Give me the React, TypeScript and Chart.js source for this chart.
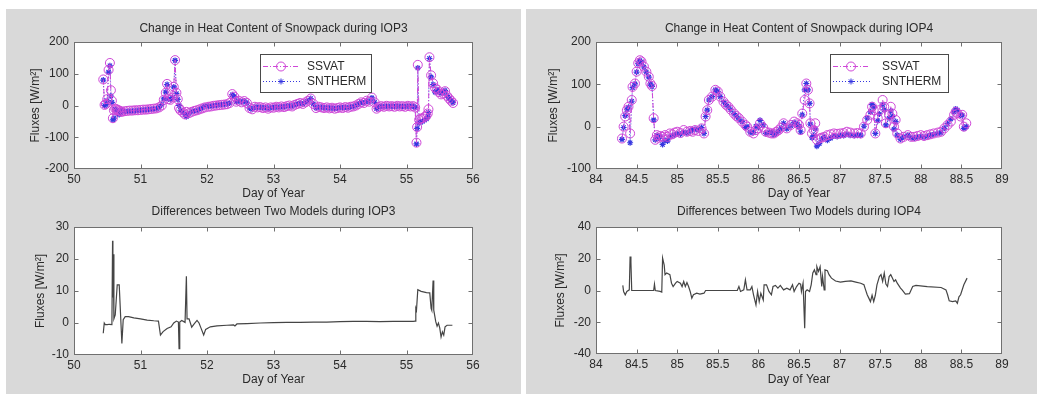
import React, { useEffect, useRef } from 'react';
import { Chart, registerables } from 'chart.js';

Chart.register(...registerables);

const FONT_FAMILY = '"Liberation Sans", Arial, Helvetica, sans-serif';
const TEXT_COLOR = '#2a2a2a';
const PANEL_BG = '#d9d9d9';
const BOX_COLOR = '#707070';
const SSVAT_COLOR = '#cf48d8';
const SNTHERM_COLOR = '#3636e0';
const DIFF_COLOR = '#454545';

const seriesLabels = ['SSVAT', 'SNTHERM'];
const xAxisTitle = 'Day of Year';
const yAxisTitle = 'Fluxes [W/m²]';
const titles = [
  'Change in Heat Content of Snowpack during IOP3',
  'Differences between Two Models during IOP3',
  'Change in Heat Content of Snowpack during IOP4',
  'Differences between Two Models during IOP4',
];

// ---------- IOP3: change in heat content ----------
const iop3Days = [
  50.44, 50.46, 50.48, 50.50, 50.52, 50.54, 50.555, 50.57, 50.585, 50.60,
  50.62, 50.64, 50.66, 50.68, 50.70, 50.72, 50.76, 50.80, 50.84, 50.88,
  50.92, 50.96, 51.00, 51.04, 51.08, 51.12, 51.16, 51.20, 51.24, 51.28,
  51.32, 51.35, 51.38, 51.40, 51.42, 51.45, 51.48, 51.50, 51.52, 51.54,
  51.56, 51.58, 51.60, 51.64, 51.67, 51.69, 51.73, 51.77, 51.81, 51.85,
  51.89, 51.93, 51.97, 52.02, 52.06, 52.10, 52.14, 52.18, 52.22, 52.26,
  52.30, 52.34, 52.38, 52.41, 52.44, 52.48, 52.52, 52.56, 52.60, 52.64,
  52.68, 52.72, 52.76, 52.80, 52.84, 52.88, 52.92, 52.96, 53.00, 53.04,
  53.08, 53.12, 53.16, 53.20, 53.24, 53.28, 53.32, 53.36, 53.40, 53.44,
  53.48, 53.52, 53.56, 53.60, 53.64, 53.68, 53.72, 53.76, 53.80, 53.84,
  53.88, 53.92, 53.96, 54.00, 54.04, 54.08, 54.12, 54.16, 54.20, 54.24,
  54.28, 54.32, 54.36, 54.40, 54.44, 54.48, 54.52, 54.55, 54.58, 54.62,
  54.66, 54.70, 54.74, 54.78, 54.82, 54.86, 54.90, 54.94, 54.98, 55.02,
  55.06, 55.10, 55.13, 55.15, 55.16, 55.17, 55.19, 55.21, 55.24, 55.27,
  55.30, 55.32, 55.33, 55.345, 55.37, 55.40, 55.43, 55.46, 55.49, 55.52,
  55.55, 55.58, 55.61, 55.64, 55.67, 55.70,
];
const iop3Ssvat = [
  82, 2, 5, 20, 112, 134, 48, 15, -40, -15,
  -10, -12, -14, -16, -18, -20, -18, -17, -16, -16,
  -15, -15, -14, -13, -13, -12, -11, -10, -9, -6,
  0, 18, 40, 68, 20, 18, 25, 59, 143, 40,
  20, -8, -15, -22, -28, -20, -24, -20, -17, -15,
  -12, -9, -6, -4, -3, -1, 0, 1, 2, 3,
  4, 8, 36, 28, 12, 15, 10, 14, 8, -8,
  -12, -4, -6, -5, -8, -6, -10, -6, -7, -4,
  -6, -3, -5, -2, 0, -3, 2, 5, 8, 5,
  10, 15, 22, 5, -8, -4, -6, -8, -6, -9,
  -7, -10, -8, -6, -8, -5, -7, -4, -3, 0,
  5, 10, 8, 15, 12, 25, 10, -10, -5, -2,
  -4, -1, -3, -2, -4, -1, -3, -2, -4, -1,
  -3, -2, -6, -117, -68, 128, -45, -42, -40, -36,
  -32, -25, -12, 152, 95, 70, 55, 50, 42, 35,
  38, 45, 30, 22, 15, 8,
];
const iop3Sntherm = [
  80, 0, 3, 15, 105, 125, 30, 10, -45, -40,
  -12, -15, -26, -28, -22, -14, -19, -19, -18, -18,
  -17, -16, -15, -14, -14, -13, -12, -11, -10, -6,
  3, 21, 42, 66, 21, 19, 25, 58, 142, 38,
  19, 0, -15, -22, -28, -35, -25, -19, -17, -16,
  -12, -7, -2, -2, -2, 0, 1, 2, 3, 4,
  5, 8, 34, 28, 12, 15, 10, 14, 8, -8,
  -12, -4, -6, -5, -8, -6, -10, -6, -7, -4,
  -6, -3, -5, -2, 0, -3, 2, 5, 8, 5,
  10, 15, 22, 5, -8, -4, -6, -8, -6, -9,
  -7, -10, -8, -6, -8, -5, -7, -4, -3, 0,
  5, 10, 8, 15, 12, 24, 10, -10, -5, -2,
  -4, -1, -3, -2, -4, -1, -3, -2, -4, -1,
  -3, -2, -6, -121, -72, 118, -55, -52, -50, -46,
  -42, -35, -22, 148, 90, 66, 42, 50, 43, 39,
  41, 47, 31, 23, 16, 9,
];

// ---------- IOP3: differences ----------
const iop3DiffDays = [
  50.44, 50.455, 50.47, 50.50, 50.53, 50.57, 50.58, 50.585, 50.59, 50.60,
  50.62, 50.65, 50.68, 50.72, 50.74, 50.77, 50.82, 50.90, 51.00, 51.10,
  51.20, 51.27, 51.30, 51.34, 51.40, 51.46, 51.50, 51.54, 51.57, 51.58,
  51.59, 51.62, 51.67, 51.69, 51.70, 51.73, 51.77, 51.81, 51.85, 51.88,
  51.91, 51.95, 51.98, 52.05, 52.15, 52.30, 52.40, 52.42, 52.45, 52.60,
  52.80, 53.00, 53.20, 53.40, 53.60, 53.80, 54.00, 54.20, 54.40, 54.60,
  54.80, 55.00, 55.10, 55.13, 55.14, 55.15, 55.17, 55.22, 55.30, 55.35,
  55.37, 55.38, 55.40, 55.41, 55.44, 55.46, 55.48, 55.50, 55.52, 55.54,
  55.56, 55.58, 55.61, 55.69,
];
const iop3Diff = [
  -3.2, 0, -0.5, -0.5, -0.4, -0.5, 25.7, 8, 21.5, 1.3,
  2.5, 11.9, 11.9, -6.4, 1, 2, 2, 1.6, 1.3, 0.9,
  0.7, 0.6, -3.75, -2.7, -1.7, -1.2, 0, 0.6, 0.3, -8,
  0.3, 0.8, 0.2, 14.6, 1.3, 1.3, -1.3, -0.2, 0.8, 0,
  -1.6, -3.75, -2, -1.2, -0.9, -0.7, -0.6, -0.9, -0.3, -0.2,
  0, 0.1, 0.2, 0.2, 0.3, 0.3, 0.4, 0.5, 0.5, 0.4,
  0.5, 0.5, 0.5, 0.6, 4.6, 4, 10.4, 9.9, 9.5, 9.4,
  4.6, 4, 13.3, 4, 0.4, -1, 0, -1.5, -4.4, -2.8,
  -3.8, -1.2, -0.7, -0.7,
];

// ---------- IOP4: change in heat content ----------
const iop4Days = [
  84.32, 84.34, 84.36, 84.38, 84.40, 84.42, 84.44, 84.45, 84.48, 84.50,
  84.52, 84.54, 84.56, 84.59, 84.62, 84.65, 84.67, 84.69, 84.71, 84.73,
  84.75, 84.77, 84.79, 84.82, 84.85, 84.88, 84.91, 84.94, 84.97, 85.00,
  85.04, 85.08, 85.12, 85.16, 85.19, 85.22, 85.26, 85.30, 85.33, 85.35,
  85.37, 85.39, 85.43, 85.47, 85.50, 85.53, 85.57, 85.60, 85.63, 85.66,
  85.70, 85.73, 85.76, 85.80, 85.84, 85.86, 85.90, 85.94, 85.97, 86.00,
  86.02, 86.06, 86.09, 86.13, 86.16, 86.19, 86.22, 86.25, 86.28, 86.31,
  86.35, 86.40, 86.44, 86.48, 86.50, 86.52, 86.54, 86.57, 86.59, 86.61,
  86.63, 86.64, 86.66, 86.68, 86.70, 86.72, 86.75, 86.78, 86.81, 86.85,
  86.89, 86.93, 86.97, 87.01, 87.05, 87.09, 87.13, 87.18, 87.22, 87.26,
  87.30, 87.34, 87.38, 87.40, 87.42, 87.44, 87.47, 87.49, 87.53, 87.55,
  87.57, 87.61, 87.63, 87.65, 87.67, 87.69, 87.71, 87.75, 87.79, 87.84,
  87.88, 87.92, 87.96, 88.00, 88.04, 88.08, 88.12, 88.16, 88.21, 88.25,
  88.29, 88.33, 88.37, 88.41, 88.43, 88.45, 88.49, 88.51, 88.53, 88.56,
];
const iop4Ssvat = [
  -28, 0, 24, 39, 47, -16, 63, 94, 102, 130,
  150, 157, 154, 142, 130, 118, 102, 96, 20, -31,
  -20, -26, -22, -24, -20, -24, -16, -18, -14, -12,
  -15, -8, -12, -10, -12, -8, -10, -4, -16, 24,
  39, 63, 71, 87, 83, 71, 59, 52, 47, 40,
  31, 25, 20, 12, 4, 0, -12, -16, -8, -4,
  8, -2, -12, -14, -16, -16, -12, -8, -2, 8,
  -4, 4, 12, 8, 4, -8, 31, 63, 102, 87,
  55, 8, -16, -8, 8, -31, -28, -26, -24, -20,
  -18, -16, -17, -16, -15, -12, -14, -16, -15, -16,
  0, 16, 28, 47, 39, -16, 20, 39, 63, 47,
  8, 28, 47, 31, 0, 16, -16, -28, -24, -20,
  -24, -24, -22, -20, -22, -20, -18, -16, -14, -12,
  -4, 4, 12, 28, 35, 31, 24, 28, 0, 8,
];
const iop4Sntherm = [
  -30, -2, 26, 40, 46, -38, 60, 92, 101, 129,
  149, 156, 153, 141, 129, 117, 101, 95, 16, -31,
  -21, -27, -23, -42, -32, -34, -24, -21, -19, -17,
  -18, -13, -15, -10, -7, -6, -8, -2, -16, 24,
  39, 63, 71, 87, 83, 71, 59, 52, 47, 40,
  31, 25, 18, 12, -2, 0, -13, -14, 1, -2,
  15, 4, -16, -14, -13, -19, -15, -10, -4, 8,
  -5, 2, 10, 6, 0, -12, 28, 87, 102, 87,
  55, 6, -26, -21, -5, -46, -40, -29, -24, -32,
  -27, -22, -23, -21, -21, -18, -20, -21, -20, -20,
  1, 20, 35, 52, 46, -16, 14, 30, 52, 40,
  4, 20, 37, 24, -6, 12, -20, -30, -24, -20,
  -26, -27, -25, -23, -25, -23, -20, -18, -16, -14,
  -4, 7, 18, 35, 42, 39, 27, 27, -4, 0,
];

// ---------- IOP4: differences ----------
const iop4DiffDays = [
  84.33, 84.34, 84.36, 84.38, 84.41, 84.42, 84.43, 84.44, 84.71, 84.72,
  84.73, 84.79, 84.81, 84.82, 84.84, 84.85, 84.87, 84.91, 84.93, 84.95,
  84.98, 85.00, 85.04, 85.06, 85.08, 85.10, 85.12, 85.14, 85.16, 85.18,
  85.20, 85.24, 85.28, 85.33, 85.35, 85.74, 85.76, 85.78, 85.82, 85.84,
  85.86, 85.90, 85.92, 85.94, 85.97, 85.99, 86.01, 86.03, 86.06, 86.07,
  86.10, 86.13, 86.16, 86.18, 86.21, 86.24, 86.27, 86.31, 86.35, 86.39,
  86.42, 86.44, 86.47, 86.50, 86.52, 86.53, 86.55, 86.57, 86.58, 86.60,
  86.63, 86.65, 86.67, 86.69, 86.71, 86.72, 86.74, 86.76, 86.78, 86.79,
  86.81, 86.82, 86.85, 86.87, 86.90, 86.95, 87.01, 87.07, 87.14, 87.20,
  87.26, 87.30, 87.32, 87.34, 87.36, 87.38, 87.40, 87.42, 87.44, 87.46,
  87.49, 87.51, 87.53, 87.55, 87.57, 87.59, 87.61, 87.63, 87.65, 87.67,
  87.69, 87.71, 87.75, 87.77, 87.81, 87.86, 87.90, 87.94, 88.08, 88.25,
  88.31, 88.33, 88.35, 88.39, 88.43, 88.45, 88.47, 88.49, 88.53, 88.57,
];
const iop4Diff = [
  3.2, -0.6, -2.7, -0.6, 0.4, 21.4, 18, 0, 0, 4,
  0, -0.6, -1, 20.4, 16, 10, 11, 10, 4.6, 2.5,
  4.6, 5.7, 4.6, 2.5, 5.7, 2.5, 5, 2.5, -0.6, -4.8,
  -2.7, -1.7, -2.3, -1.7, 0, 0, 2.5, -0.6, 0.4, 6.7,
  0.4, 0.4, 2.5, -2.7, -9, -0.6, -7, -1.7, -6, 3.6,
  3.6, -0.6, -2.7, 2.5, 3.2, 1.5, 3.2, 0.4, 1.5, 0.4,
  3.6, -0.6, 2.5, 4.6, 4, -0.6, 4.6, -23.7, -0.6, 0.4,
  -0.6, 3.6, 11, 13, 10, 15, 12, 15, 2.5, 8.8,
  0.4, 13, 12.4, 10, 7.8, 6, 5.3, 5.7, 6, 5.3,
  4.6, 3.6, 0.4, -2.7, -4.8, -7, -3, -7, -3, 3.6,
  8.8, 10, 5.7, 11, 4, 2.5, 8.8, 10, 7.8, 5.7,
  6.7, 4.6, 1.5, 0.4, -2.3, -2, 2.5, 3.2, 2.5, 1.9,
  0.4, -2.7, -6.5, -7, -6.5, -8, -4, -2.7, 3.6, 7.8,
];

// axis ranges
const iop3XRange = [50, 56, 1];
const iop4XRange = [84, 89, 0.5];
const heat3YRange = [-200, 200, 100];
const heat4YRange = [-100, 200, 100];
const diff3YRange = [-10, 30, 10];
const diff4YRange = [-40, 40, 20];

function toPoints(xs: number[], ys: number[]) {
  const n = Math.min(xs.length, ys.length);
  const out: { x: number; y: number }[] = [];
  for (let i = 0; i < n; i++) out.push({ x: xs[i], y: ys[i] });
  return out;
}

function drawStar(ctx: CanvasRenderingContext2D, x: number, y: number, r: number) {
  ctx.beginPath();
  ctx.moveTo(x - r, y); ctx.lineTo(x + r, y);
  ctx.moveTo(x, y - r); ctx.lineTo(x, y + r);
  const d = r * 0.7071;
  ctx.moveTo(x - d, y - d); ctx.lineTo(x + d, y + d);
  ctx.moveTo(x - d, y + d); ctx.lineTo(x + d, y - d);
  ctx.stroke();
}

const matlabFrame = {
  id: 'matlabFrame',
  beforeDraw(chart: any) {
    const { ctx, chartArea: a } = chart;
    ctx.save();
    ctx.fillStyle = '#ffffff';
    ctx.fillRect(a.left, a.top, a.right - a.left, a.bottom - a.top);
    ctx.restore();
  },
  afterDraw(chart: any, _args: any, opts: any) {
    const { ctx, chartArea: a, scales } = chart;
    const L = Math.round(a.left) + 0.5;
    const R = Math.round(a.right) - 0.5;
    const T = Math.round(a.top) + 0.5;
    const B = Math.round(a.bottom) - 0.5;
    ctx.save();
    ctx.setLineDash([]);
    ctx.lineWidth = 1;
    ctx.strokeStyle = BOX_COLOR;
    ctx.strokeRect(L, T, R - L, B - T);
    const tl = 4;
    ctx.beginPath();
    scales.x.ticks.forEach((t: any) => {
      const px = Math.round(scales.x.getPixelForValue(t.value)) + 0.5;
      if (px <= L + 1 || px >= R - 1) return;
      ctx.moveTo(px, B); ctx.lineTo(px, B - tl);
      ctx.moveTo(px, T); ctx.lineTo(px, T + tl);
    });
    scales.y.ticks.forEach((t: any) => {
      const py = Math.round(scales.y.getPixelForValue(t.value)) + 0.5;
      if (py <= T + 1 || py >= B - 1) return;
      ctx.moveTo(L, py); ctx.lineTo(L + tl, py);
      ctx.moveTo(R, py); ctx.lineTo(R - tl, py);
    });
    ctx.stroke();

    // title
    ctx.fillStyle = TEXT_COLOR;
    ctx.font = `12px ${FONT_FAMILY}`;
    ctx.textAlign = 'center';
    ctx.textBaseline = 'middle';
    ctx.fillText(opts.title, (a.left + a.right) / 2, opts.titleY);

    // legend
    const lg = opts.legend;
    if (lg) {
      ctx.fillStyle = '#ffffff';
      ctx.fillRect(lg.x, lg.y, lg.w, lg.h);
      ctx.strokeStyle = '#4a4a4a';
      ctx.strokeRect(lg.x + 0.5, lg.y + 0.5, lg.w, lg.h);
      chart.data.datasets.forEach((ds: any, i: number) => {
        const yRow = lg.y + 12 + i * 15;
        ctx.strokeStyle = ds.borderColor;
        ctx.lineWidth = 1;
        ctx.setLineDash(ds.borderDash || []);
        ctx.beginPath();
        ctx.moveTo(lg.x + 3, yRow + 0.5);
        ctx.lineTo(lg.x + 40, yRow + 0.5);
        ctx.stroke();
        ctx.setLineDash([]);
        const mx = lg.x + 21;
        if (ds.pointStyle === 'circle') {
          ctx.beginPath();
          ctx.arc(mx, yRow + 0.5, ds.pointRadius, 0, Math.PI * 2);
          ctx.stroke();
        } else {
          drawStar(ctx, mx, yRow + 0.5, ds.pointRadius);
        }
        ctx.fillStyle = TEXT_COLOR;
        ctx.textAlign = 'left';
        ctx.font = `12px ${FONT_FAMILY}`;
        ctx.fillText(ds.label, lg.x + lg.textX, yRow + 0.5);
      });
    }
    ctx.restore();
  },
};

type Spec = {
  left: number; top: number; w: number; h: number;
  padTop: number; padRight: number; yWidth: number; xHeight: number;
  yTitlePad: number; xTitlePad: number; titleY: number; title: string;
  xRange: number[]; yRange: number[];
  datasets: any[];
  legend?: any;
};

function heatDatasets(days: number[], ssvat: number[], sntherm: number[]) {
  return [
    {
      label: seriesLabels[0],
      data: toPoints(days, ssvat),
      borderColor: SSVAT_COLOR,
      borderWidth: 1,
      borderDash: [5, 2, 1, 2],
      pointStyle: 'circle',
      pointRadius: 4.5,
      pointBorderWidth: 1,
      pointBorderColor: SSVAT_COLOR,
      pointBackgroundColor: 'rgba(0,0,0,0)',
      fill: false,
      tension: 0,
    },
    {
      label: seriesLabels[1],
      data: toPoints(days, sntherm),
      borderColor: SNTHERM_COLOR,
      borderWidth: 1,
      borderDash: [1, 2],
      pointStyle: 'star',
      pointRadius: 3,
      pointBorderWidth: 1.2,
      pointBorderColor: SNTHERM_COLOR,
      pointBackgroundColor: SNTHERM_COLOR,
      fill: false,
      tension: 0,
    },
  ];
}

function diffDatasets(days: number[], diff: number[]) {
  return [
    {
      label: 'Difference',
      data: toPoints(days, diff),
      borderColor: DIFF_COLOR,
      borderWidth: 1.2,
      pointRadius: 0,
      fill: false,
      tension: 0,
    },
  ];
}

const tickFont = { family: FONT_FAMILY, size: 12 };

function buildConfig(s: Spec): any {
  return {
    type: 'line',
    data: { datasets: s.datasets },
    plugins: [matlabFrame],
    options: {
      animation: false,
      responsive: false,
      devicePixelRatio: 1,
      events: [],
      layout: { padding: { left: 0, right: s.padRight, top: s.padTop, bottom: 0 } },
      plugins: {
        legend: { display: false },
        title: { display: false },
        tooltip: { enabled: false },
        matlabFrame: { title: s.title, titleY: s.titleY, legend: s.legend },
      },
      scales: {
        x: {
          type: 'linear',
          min: s.xRange[0],
          max: s.xRange[1],
          grid: { display: false, drawTicks: false },
          border: { display: false },
          ticks: {
            stepSize: s.xRange[2],
            autoSkip: false,
            maxRotation: 0,
            padding: 3,
            font: tickFont,
            color: TEXT_COLOR,
            callback: (v: any) => String(Math.round(Number(v) * 10) / 10),
          },
          title: {
            display: true,
            text: xAxisTitle,
            font: tickFont,
            color: TEXT_COLOR,
            padding: { top: 0, bottom: s.xTitlePad },
          },
          afterFit: (sc: any) => { sc.height = s.xHeight; },
        },
        y: {
          type: 'linear',
          min: s.yRange[0],
          max: s.yRange[1],
          grid: { display: false, drawTicks: false },
          border: { display: false },
          ticks: {
            stepSize: s.yRange[2],
            padding: 5,
            font: tickFont,
            color: TEXT_COLOR,
            callback: (v: any) => String(v),
          },
          title: {
            display: true,
            text: yAxisTitle,
            font: tickFont,
            color: TEXT_COLOR,
            padding: { top: s.yTitlePad, bottom: 0 },
          },
          afterFit: (sc: any) => { sc.width = s.yWidth; },
        },
      },
    },
  };
}

const specs: Spec[] = [
  {
    left: 6, top: 9, w: 515, h: 193,
    padTop: 33, padRight: 48, yWidth: 68, xHeight: 33,
    yTitlePad: 22, xTitlePad: 1.5, titleY: 19.3, title: titles[0],
    xRange: iop3XRange, yRange: heat3YRange,
    datasets: heatDatasets(iop3Days, iop3Ssvat, iop3Sntherm),
    legend: { x: 254, y: 45, w: 111, h: 38, textX: 47 },
  },
  {
    left: 6, top: 202, w: 515, h: 192,
    padTop: 25, padRight: 48, yWidth: 68, xHeight: 39,
    yTitlePad: 27, xTitlePad: 6.8, titleY: 9.7, title: titles[1],
    xRange: iop3XRange, yRange: diff3YRange,
    datasets: diffDatasets(iop3DiffDays, iop3Diff),
  },
  {
    left: 526, top: 9, w: 511, h: 193,
    padTop: 33, padRight: 35, yWidth: 70, xHeight: 33,
    yTitlePad: 20, xTitlePad: 1.5, titleY: 19.3, title: titles[2],
    xRange: iop4XRange, yRange: heat4YRange,
    datasets: heatDatasets(iop4Days, iop4Ssvat, iop4Sntherm),
    legend: { x: 304, y: 45, w: 118, h: 38, textX: 52 },
  },
  {
    left: 526, top: 202, w: 511, h: 192,
    padTop: 25, padRight: 35, yWidth: 70, xHeight: 40,
    yTitlePad: 27, xTitlePad: 6.8, titleY: 9.7, title: titles[3],
    xRange: iop4XRange, yRange: diff4YRange,
    datasets: diffDatasets(iop4DiffDays, iop4Diff),
  },
];

function Plot({ spec }: { spec: Spec }) {
  const ref = useRef<HTMLCanvasElement | null>(null);
  useEffect(() => {
    if (!ref.current) return;
    const chart = new Chart(ref.current, buildConfig(spec));
    return () => chart.destroy();
  }, [spec]);
  return (
    <canvas
      ref={ref}
      width={spec.w}
      height={spec.h}
      style={{ position: 'absolute', left: spec.left, top: spec.top, width: spec.w, height: spec.h, display: 'block' }}
    />
  );
}

export default function App() {
  return (
    <div style={{ position: 'fixed', left: 0, top: 0, width: 1037, height: 394, background: '#ffffff', overflow: 'hidden' }}>
      <div style={{ position: 'absolute', left: 6, top: 9, width: 515, height: 385, background: PANEL_BG }} />
      <div style={{ position: 'absolute', left: 526, top: 9, width: 511, height: 385, background: PANEL_BG }} />
      {specs.map((s, i) => (
        <Plot key={i} spec={s} />
      ))}
    </div>
  );
}
